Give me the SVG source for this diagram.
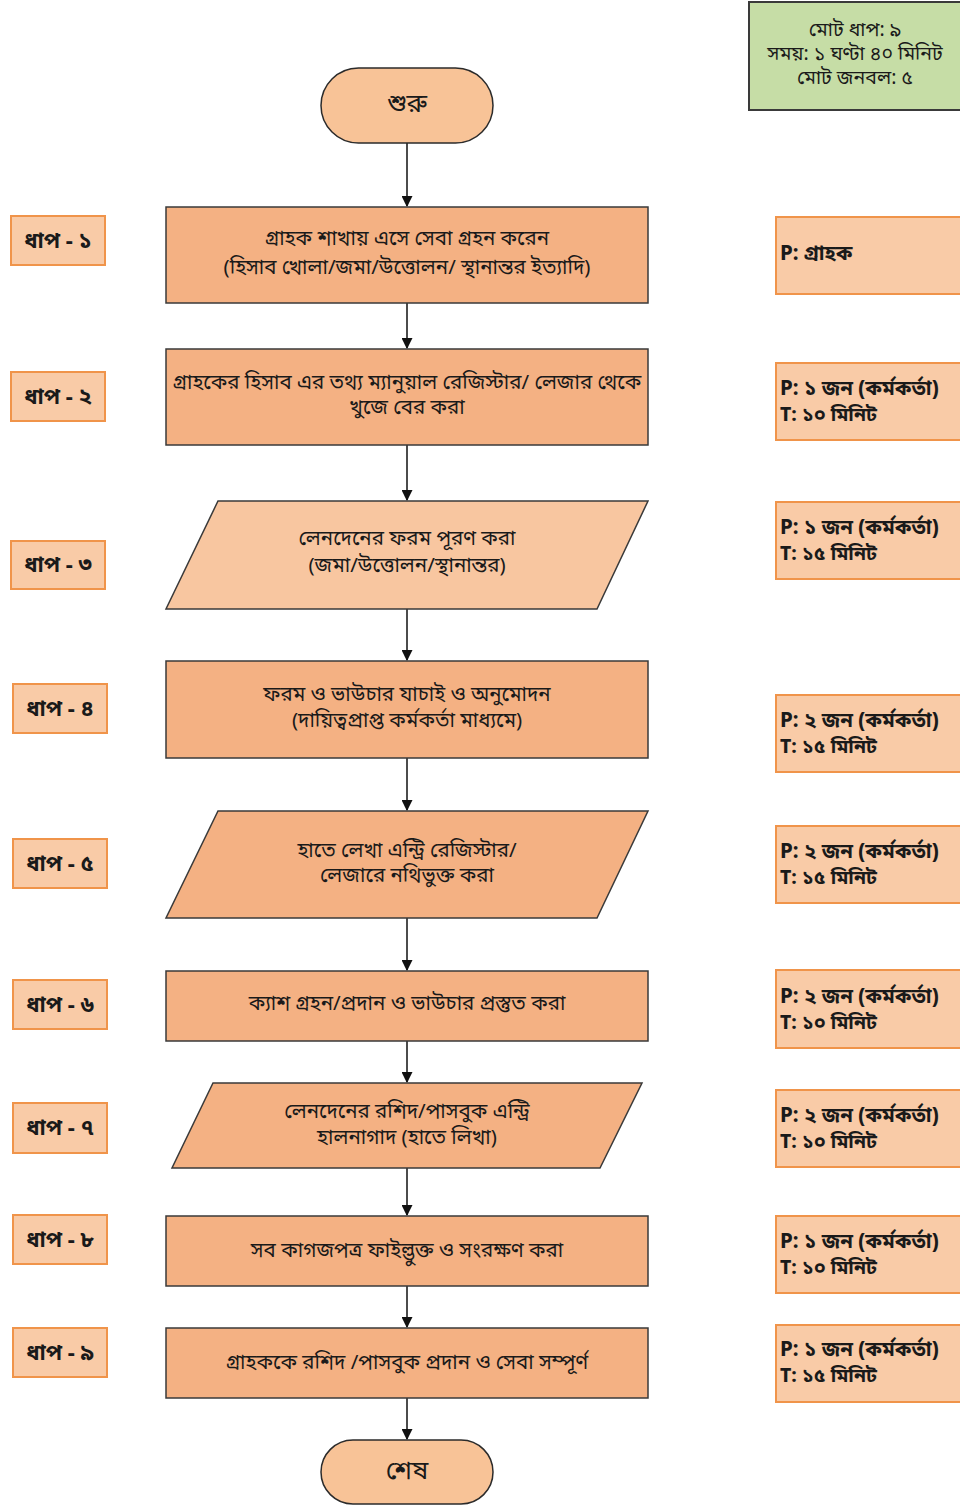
<svg xmlns="http://www.w3.org/2000/svg" width="960" height="1505" viewBox="0 0 960 1505">
  <style>
    text { font-family: "Noto Sans Bengali", "Noto Serif Bengali", "Lohit Bengali", "FreeSerif", "Noto Sans", sans-serif; fill: #1a1a1a; }
    .main { font-size: 20.5px; text-anchor: middle; }
    .big { font-size: 26px; text-anchor: middle; }
    .term { fill: #f8c397; stroke: #2b2b2b; stroke-width: 1.5; }
    .proc { fill: #f4b183; stroke: #3a3a3a; stroke-width: 1.5; }
    .io-light { fill: #f8c6a0; stroke: #3a3a3a; stroke-width: 1.5; }
    .io { fill: #f4b183; stroke: #3a3a3a; stroke-width: 1.5; }
    .step { fill: #f9cba7; stroke: #f0944a; stroke-width: 2; }
    .step-t { font-size: 22px; font-weight: bold; text-anchor: middle; }
    .res { fill: #f9cba7; stroke: #f0944a; stroke-width: 2; }
    .res-p { font-size: 20.5px; font-weight: bold; }
    .res-t { font-size: 19.5px; font-weight: bold; }
    .sum { fill: #c6dda6; stroke: #3a3a3a; stroke-width: 2; }
    .sum-t { font-size: 19.5px; text-anchor: middle; }
    .conn line { stroke: #111; stroke-width: 1.5; marker-end: url(#arrow); }
  </style>
  <defs>
    <marker id="arrow" viewBox="0 0 10 10" refX="9" refY="5" markerWidth="11" markerHeight="11" markerUnits="userSpaceOnUse" orient="auto">
      <path d="M0,0 L10,5 L0,10 z" fill="#111"/>
    </marker>
  </defs>

  <!-- summary -->
  <g id="summary">
    <rect class="sum" x="749" y="2" width="216" height="108"/>
    <text class="sum-t" x="855" y="36">মোট ধাপ: ৯</text>
    <text class="sum-t" x="855" y="60">সময়: ১ ঘণ্টা ৪০ মিনিট</text>
    <text class="sum-t" x="855" y="84">মোট জনবল: ৫</text>
  </g>

  <!-- connectors -->
  <g class="conn" id="connectors">
    <line x1="407" y1="143" x2="407" y2="206"/>
    <line x1="407" y1="303" x2="407" y2="348"/>
    <line x1="407" y1="445" x2="407" y2="500"/>
    <line x1="407" y1="609" x2="407" y2="660"/>
    <line x1="407" y1="758" x2="407" y2="810"/>
    <line x1="407" y1="918" x2="407" y2="970"/>
    <line x1="407" y1="1041" x2="407" y2="1082"/>
    <line x1="407" y1="1168" x2="407" y2="1215"/>
    <line x1="407" y1="1286" x2="407" y2="1327"/>
    <line x1="407" y1="1398" x2="407" y2="1439"/>
  </g>

  <!-- flow nodes -->
  <g id="start">
    <rect class="term" x="321" y="68" width="172" height="75" rx="37.5"/>
    <text class="big" x="407" y="112">শুরু</text>
  </g>
  <g id="n1">
    <rect class="proc" x="166" y="207" width="482" height="96"/>
    <text class="main" x="407" y="245">গ্রাহক শাখায় এসে সেবা গ্রহন করেন</text>
    <text class="main" x="407" y="274">(হিসাব খোলা/জমা/উত্তোলন/ স্থানান্তর ইত্যাদি)</text>
  </g>
  <g id="n2">
    <rect class="proc" x="166" y="349" width="482" height="96"/>
    <text class="main" x="407" y="389">গ্রাহকের হিসাব এর তথ্য ম্যানুয়াল রেজিস্টার/ লেজার থেকে</text>
    <text class="main" x="407" y="414">খুজে বের করা</text>
  </g>
  <g id="n3">
    <polygon class="io-light" points="218,501 648,501 597,609 166,609"/>
    <text class="main" x="407" y="545">লেনদেনের ফরম পূরণ করা</text>
    <text class="main" x="407" y="572">(জমা/উত্তোলন/স্থানান্তর)</text>
  </g>
  <g id="n4">
    <rect class="proc" x="166" y="661" width="482" height="97"/>
    <text class="main" x="407" y="701">ফরম ও ভাউচার যাচাই ও অনুমোদন</text>
    <text class="main" x="407" y="727">(দায়িত্বপ্রাপ্ত কর্মকর্তা মাধ্যমে)</text>
  </g>
  <g id="n5">
    <polygon class="io" points="218,811 648,811 597,918 166,918"/>
    <text class="main" x="407" y="857">হাতে লেখা এন্ট্রি রেজিস্টার/</text>
    <text class="main" x="407" y="882">লেজারে নথিভুক্ত করা</text>
  </g>
  <g id="n6">
    <rect class="proc" x="166" y="971" width="482" height="70"/>
    <text class="main" x="407" y="1010">ক্যাশ গ্রহন/প্রদান ও ভাউচার প্রস্তুত করা</text>
  </g>
  <g id="n7">
    <polygon class="io" points="213,1083 642,1083 600,1168 172,1168"/>
    <text class="main" x="407" y="1118">লেনদেনের রশিদ/পাসবুক এন্ট্রি</text>
    <text class="main" x="407" y="1144">হালনাগাদ (হাতে লিখা)</text>
  </g>
  <g id="n8">
    <rect class="proc" x="166" y="1216" width="482" height="70"/>
    <text class="main" x="407" y="1257">সব কাগজপত্র ফাইল্ভুক্ত ও সংরক্ষণ করা</text>
  </g>
  <g id="n9">
    <rect class="proc" x="166" y="1328" width="482" height="70"/>
    <text class="main" x="407" y="1369">গ্রাহককে রশিদ /পাসবুক প্রদান ও সেবা সম্পূর্ণ</text>
  </g>
  <g id="end">
    <rect class="term" x="321" y="1440" width="172" height="64" rx="32"/>
    <text class="big" x="407" y="1479">শেষ</text>
  </g>

  <!-- step labels -->
  <g id="s1"><rect class="step" x="11" y="216" width="94" height="49"/><text class="step-t" x="58" y="248">ধাপ - ১</text></g>
  <g id="s2"><rect class="step" x="11" y="372" width="94" height="49"/><text class="step-t" x="58" y="404">ধাপ - ২</text></g>
  <g id="s3"><rect class="step" x="11" y="541" width="94" height="48"/><text class="step-t" x="58" y="572">ধাপ - ৩</text></g>
  <g id="s4"><rect class="step" x="13" y="684" width="94" height="49"/><text class="step-t" x="60" y="716">ধাপ - ৪</text></g>
  <g id="s5"><rect class="step" x="13" y="839" width="94" height="49"/><text class="step-t" x="60" y="871">ধাপ - ৫</text></g>
  <g id="s6"><rect class="step" x="13" y="980" width="94" height="49"/><text class="step-t" x="60" y="1012">ধাপ - ৬</text></g>
  <g id="s7"><rect class="step" x="13" y="1103" width="94" height="50"/><text class="step-t" x="60" y="1135">ধাপ - ৭</text></g>
  <g id="s8"><rect class="step" x="13" y="1215" width="94" height="49"/><text class="step-t" x="60" y="1247">ধাপ - ৮</text></g>
  <g id="s9"><rect class="step" x="13" y="1328" width="94" height="49"/><text class="step-t" x="60" y="1360">ধাপ - ৯</text></g>

  <!-- resources / time -->
  <g id="r1"><rect class="res" x="776" y="217" width="190" height="77"/><text class="res-p" x="780" y="260">P: গ্রাহক</text></g>
  <g id="r2"><rect class="res" x="776" y="363" width="190" height="77"/><text class="res-p" x="780" y="395">P: ১ জন (কর্মকর্তা)</text><text class="res-t" x="780" y="421">T: ১০ মিনিট</text></g>
  <g id="r3"><rect class="res" x="776" y="502" width="190" height="77"/><text class="res-p" x="780" y="534">P: ১ জন (কর্মকর্তা)</text><text class="res-t" x="780" y="560">T: ১৫ মিনিট</text></g>
  <g id="r4"><rect class="res" x="776" y="695" width="190" height="77"/><text class="res-p" x="780" y="727">P: ২ জন (কর্মকর্তা)</text><text class="res-t" x="780" y="753">T: ১৫ মিনিট</text></g>
  <g id="r5"><rect class="res" x="776" y="826" width="190" height="77"/><text class="res-p" x="780" y="858">P: ২ জন (কর্মকর্তা)</text><text class="res-t" x="780" y="884">T: ১৫ মিনিট</text></g>
  <g id="r6"><rect class="res" x="776" y="970" width="190" height="78"/><text class="res-p" x="780" y="1003">P: ২ জন (কর্মকর্তা)</text><text class="res-t" x="780" y="1029">T: ১০  মিনিট</text></g>
  <g id="r7"><rect class="res" x="776" y="1090" width="190" height="77"/><text class="res-p" x="780" y="1122">P: ২ জন (কর্মকর্তা)</text><text class="res-t" x="780" y="1148">T: ১০ মিনিট</text></g>
  <g id="r8"><rect class="res" x="776" y="1216" width="190" height="77"/><text class="res-p" x="780" y="1248">P: ১ জন (কর্মকর্তা)</text><text class="res-t" x="780" y="1274">T: ১০ মিনিট</text></g>
  <g id="r9"><rect class="res" x="776" y="1325" width="190" height="77"/><text class="res-p" x="780" y="1356">P: ১ জন (কর্মকর্তা)</text><text class="res-t" x="780" y="1382">T: ১৫ মিনিট</text></g>
</svg>
